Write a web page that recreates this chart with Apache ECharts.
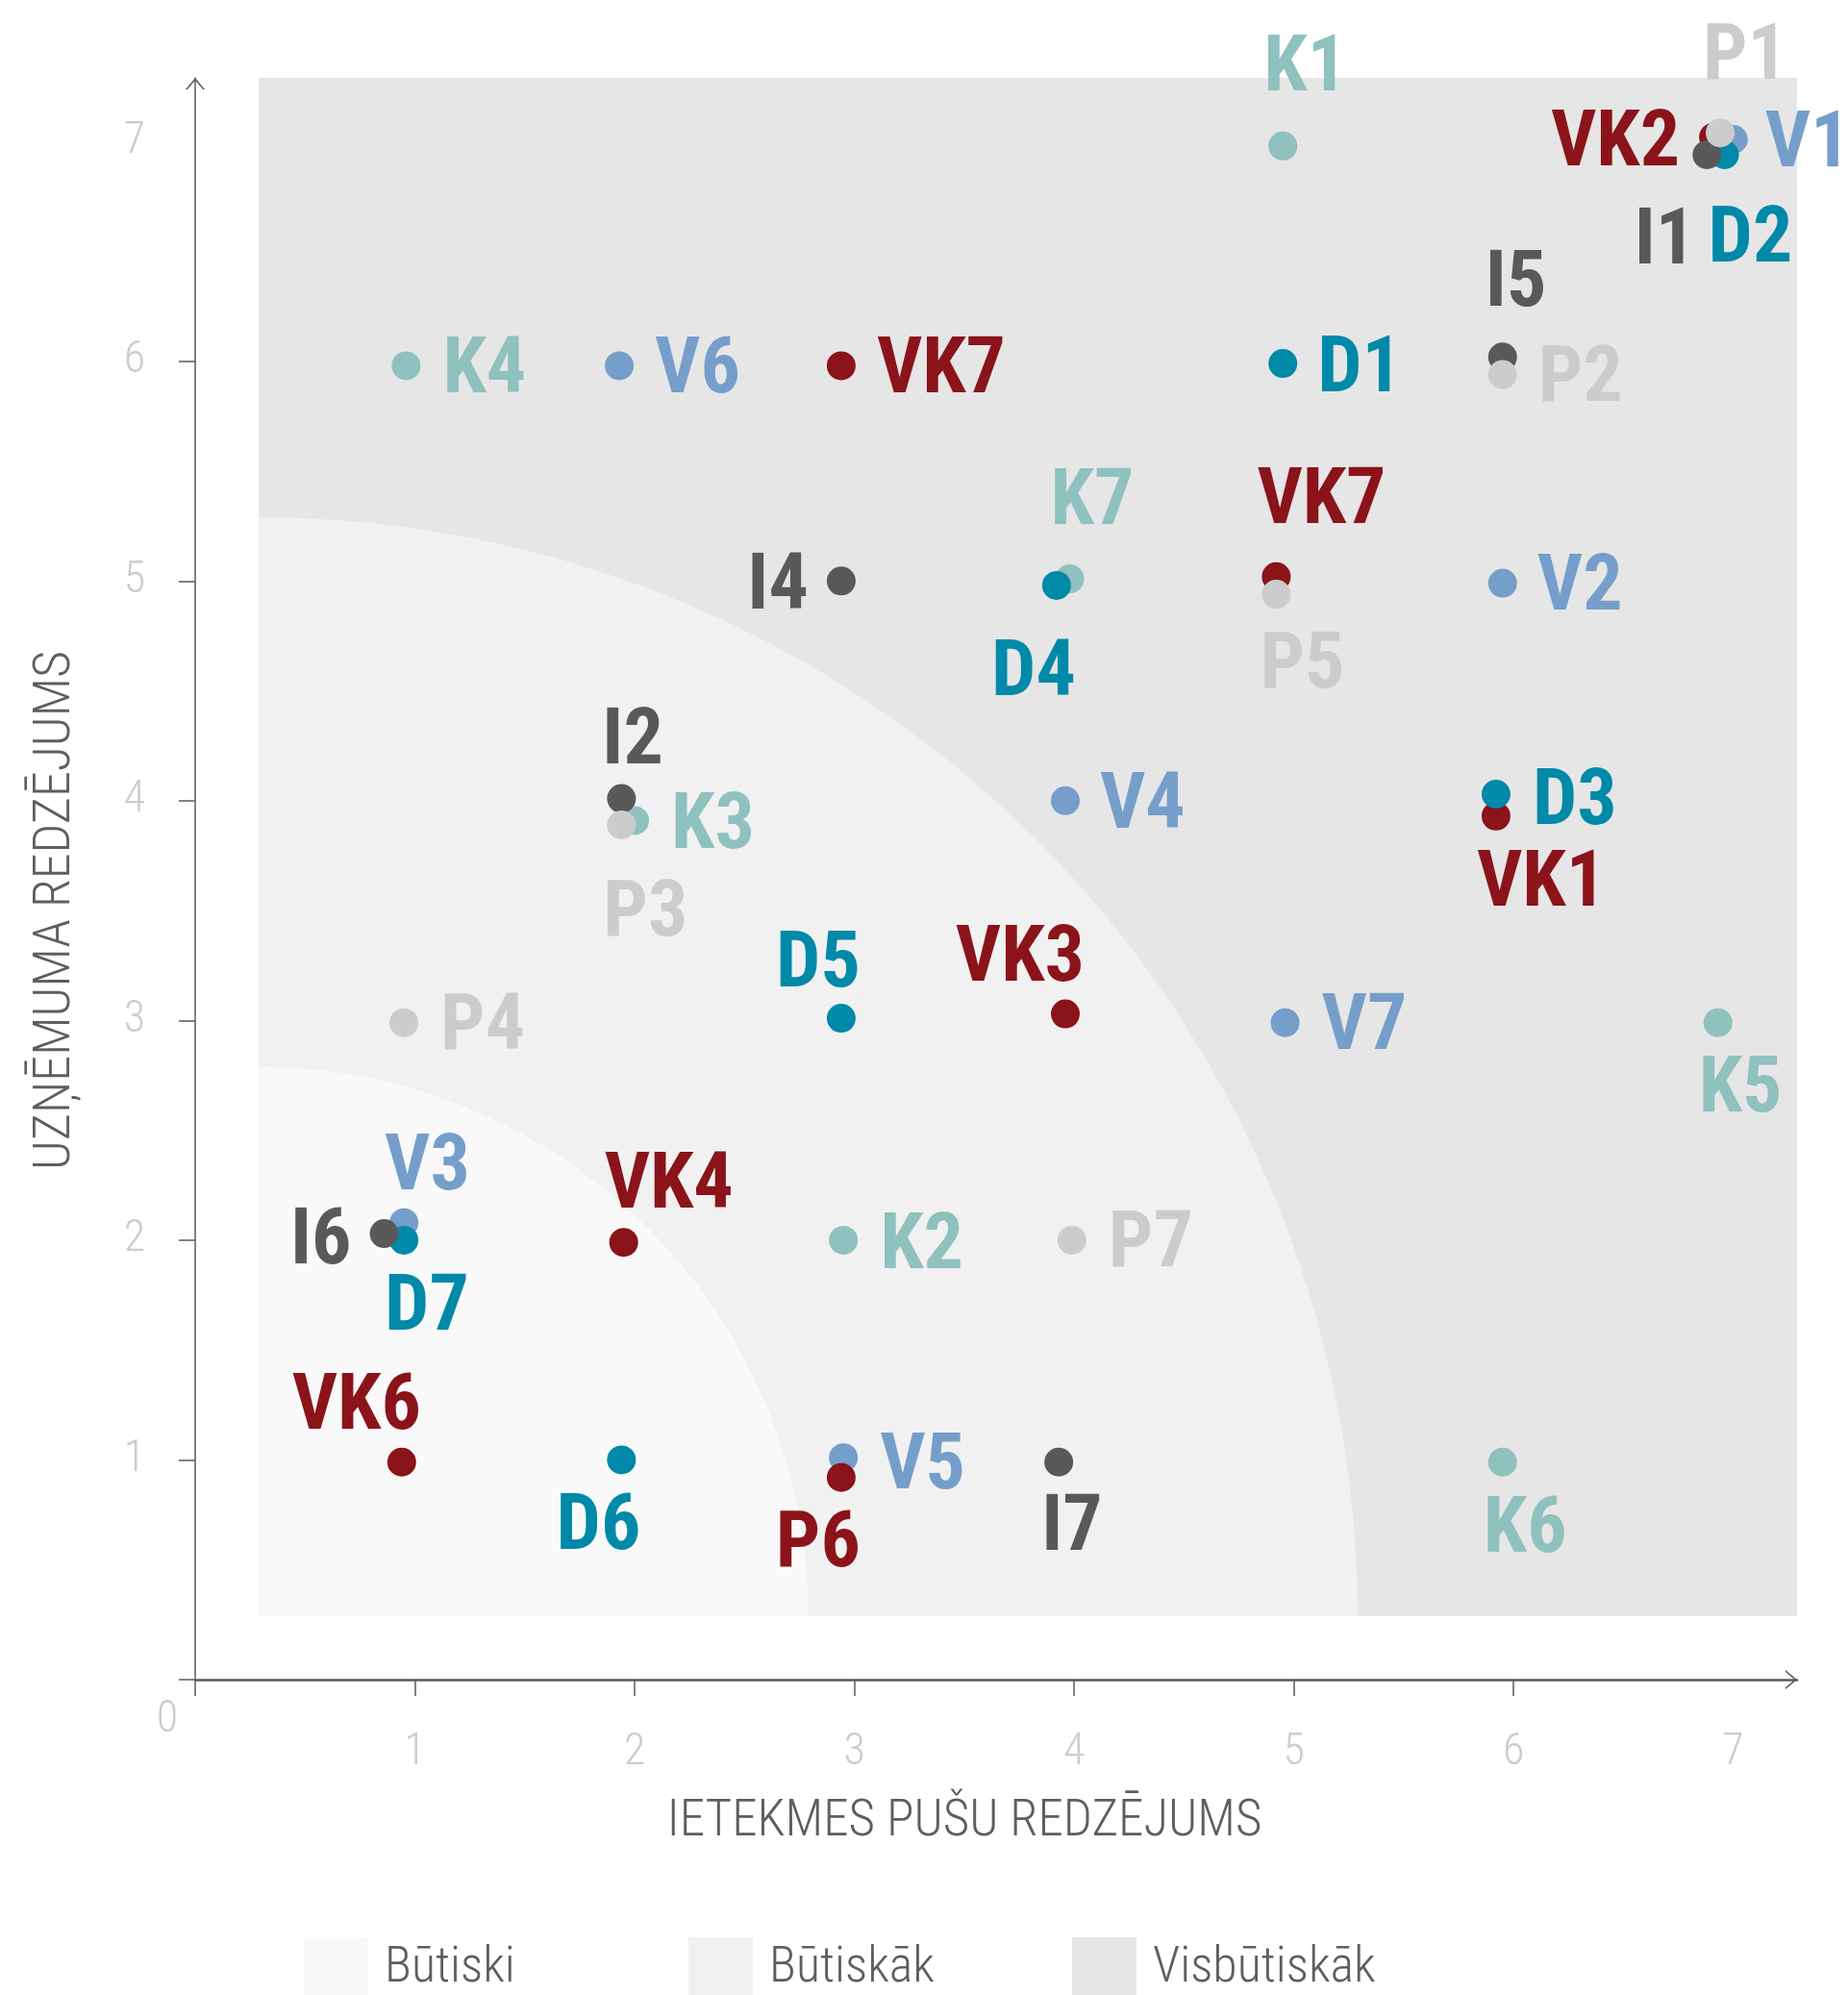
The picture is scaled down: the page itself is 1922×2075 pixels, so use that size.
<!DOCTYPE html>
<html>
<head>
<meta charset="utf-8">
<script src="https://cdn.jsdelivr.net/npm/echarts@6/dist/echarts.min.js"></script>
<style>
  html, body { margin: 0; padding: 0; background: #fff; }
  #main { width: 1922px; height: 2075px; }
</style>
</head>
<body>
<div id="main"></div>
<script>
// [label, x, y]
const kPoints = [['K1', 4.95, 6.98], ['K2', 2.95, 2.0], ['K3', 2.0, 3.91], ['K4', 0.96, 5.98], ['K5', 6.93, 2.99], ['K6', 5.95, 0.99], ['K7', 3.98, 5.01]];
const vPoints = [['V1', 7.0, 7.01], ['V2', 5.95, 4.99], ['V3', 0.95, 2.08], ['V4', 3.96, 4.0], ['V5', 2.95, 1.01], ['V6', 1.93, 5.98], ['V7', 4.96, 2.99]];
const vkPoints = [['VK1', 5.92, 3.93], ['VK2', 6.91, 7.02], ['VK3', 3.96, 3.03], ['VK4', 1.95, 1.99], ['VK6', 0.94, 0.99], ['VK7', 2.94, 5.98], ['VK7', 4.92, 5.02], ['P6', 2.94, 0.92]];
const dPoints = [['D1', 4.95, 5.99], ['D2', 6.96, 6.94], ['D3', 5.92, 4.03], ['D4', 3.92, 4.98], ['D5', 2.94, 3.01], ['D6', 1.94, 1.0], ['D7', 0.95, 2.0]];
const iPoints = [['I1', 6.88, 6.94], ['I2', 1.94, 4.01], ['I4', 2.94, 5.0], ['I5', 5.95, 6.02], ['I6', 0.86, 2.03], ['I7', 3.93, 0.99]];
const pPoints = [['P1', 6.94, 7.04], ['P2', 5.95, 5.94], ['P3', 1.94, 3.89], ['P4', 0.95, 2.99], ['P5', 4.92, 4.94], ['P7', 3.99, 2.0]];

const bandNames = ['Būtiski', 'Būtiskāk', 'Visbūtiskāk'];
const bandRadius = [2.5, 5];
const bandStart = 0.29;
const bandEnd = 7.29;

const axisMax = 7.29;
const tickValues = [0, 1, 2, 3, 4, 5, 6];
const labelValues = [1, 2, 3, 4, 5, 6, 7];

// label placement per point: [align, dx, dy] in px from dot centre
const kSpots = [['left', -20, -85], ['left', 38, 2], ['left', 38, 1], ['left', 38, 0], ['left', -20, 65], ['left', -20, 66], ['left', -20, -85]];
const vSpots = [['left', 33, 1], ['left', 36, 0], ['left', -20, -62], ['left', 36, 1], ['left', 38, 4], ['left', 37, 0], ['left', 38, 0]];
const vkSpots = [['left', -20, 66], ['right', -35, 2], ['right', 20, -62], ['left', -20, -64], ['right', 20, -62], ['left', 37, 0], ['left', -20, -83], ['right', 20, 65]];
const dSpots = [['left', 36, 1], ['left', -17, 84], ['left', 38, 3], ['right', 20, 87], ['right', 20, -61], ['right', 20, 65], ['left', -20, 66]];
const iSpots = [['right', -12, 86], ['left', -20, -64], ['right', -34, 1], ['left', -18, -81], ['right', -34, 3], ['left', -18, 64]];
const pSpots = [['left', -18, -84], ['left', 37, 0], ['left', -19, 87], ['left', 38, 0], ['left', -17, 69], ['left', 38, 0]];
const labelDrop = 7;

const narrow = "'Roboto Condensed', 'Noto Sans ExtraCondensed', 'Noto Sans Condensed', 'DejaVu Sans Condensed', sans-serif";
const bandColors = ['#f9f9f9', '#f1f1f1', '#e6e6e6'];
const legendLeft = [316, 716, 1115];
const axisColor = '#5a5a5a';
const arrow = 'path://M0,12 L10,0 L20,12 L18,12 L10,2.5 L2,12 Z';

const chart = echarts.init(document.getElementById('main'));

function bandSeries(i) {
    return {
        name: bandNames[i],
        type: 'custom',
        silent: true,
        z: 0,
        itemStyle: { color: bandColors[i] },
        data: [[bandStart, bandStart, i < 2 ? bandRadius[i] : bandEnd]],
        renderItem: (params, api) => {
            const o = api.coord([api.value(0), api.value(1)]);
            if (i === 2) {
                const e = api.coord([api.value(2), api.value(2)]);
                return { type: 'rect', shape: { x: o[0], y: e[1], width: e[0] - o[0], height: o[1] - e[1] }, style: { fill: bandColors[i] } };
            }
            const r = api.size([api.value(2), 0])[0];
            return {
                type: 'sector',
                shape: { cx: o[0], cy: o[1], r0: 0, r: r, startAngle: -Math.PI / 2, endAngle: 0, clockwise: true },
                style: { fill: bandColors[i] }
            };
        }
    };
}

function pointSeries(name, color, pts, spots) {
    return {
        name: name,
        type: 'scatter',
        symbolSize: 30,
        z: 3,
        itemStyle: { color: color, opacity: 1 },
        emphasis: { disabled: true },
        label: {
            show: true,
            position: 'inside',
            formatter: '{b}',
            color: color,
            fontFamily: narrow,
            fontWeight: 'bold',
            fontSize: 82,
            verticalAlign: 'middle'
        },
        data: pts.map((p, i) => ({
            name: p[0],
            value: [p[1], p[2]],
            label: { align: spots[i][0], offset: [spots[i][1], spots[i][2] + labelDrop] }
        }))
    };
}

const axisCommon = {
    type: 'value',
    min: 0,
    max: axisMax,
    splitLine: { show: false },
    axisTick: { show: true, length: 17, customValues: tickValues, lineStyle: { color: axisColor, width: 1.5 } },
    nameLocation: 'middle'
};

chart.setOption({
    animation: false,
    grid: { left: 203, top: 81, width: 1666, height: 1666, containLabel: false, outerBoundsMode: 'none' },
    tooltip: { show: false },
    legend: bandNames.map((n, i) => ({
        data: [n],
        left: legendLeft[i],
        top: 2015,
        padding: 0,
        icon: 'rect',
        itemWidth: 67,
        itemHeight: 66,
        selectedMode: false,
        textStyle: { fontFamily: narrow, fontWeight: 300, fontSize: 52, color: '#5e5e5e', padding: [0, 0, 0, 12] }
    })),
    xAxis: Object.assign({}, axisCommon, {
        axisLine: { show: true, lineStyle: { color: axisColor, width: 2.5 }, symbol: ['none', arrow], symbolSize: [20, 12], symbolOffset: [0, -6] },
        axisLabel: { customValues: labelValues, margin: 53, fontFamily: narrow, fontWeight: 300, fontSize: 46, lineHeight: 46, color: '#cccccc' },
        name: 'IETEKMES PUŠU REDZĒJUMS',
        nameGap: 122,
        nameTextStyle: { fontFamily: narrow, fontWeight: 300, fontSize: 53, lineHeight: 53, color: '#5e5e5e', padding: [0, 66, 0, 0] }
    }),
    yAxis: Object.assign({}, axisCommon, {
        axisLine: { show: true, lineStyle: { color: axisColor, width: 1.5 }, symbol: ['none', arrow], symbolSize: [20, 12], symbolOffset: [0, -6] },
        axisLabel: { customValues: labelValues, margin: 52, fontFamily: narrow, fontWeight: 300, fontSize: 46, color: '#cccccc' },
        name: 'UZŅĒMUMA REDZĒJUMS',
        nameGap: 118,
        nameTextStyle: { fontFamily: narrow, fontWeight: 300, fontSize: 54, lineHeight: 54, color: '#5e5e5e', padding: [0, 66, 0, 0] }
    }),
    series: [
        bandSeries(2), bandSeries(1), bandSeries(0),
        pointSeries('K', '#8fc1be', kPoints, kSpots),
        pointSeries('V', '#759ecb', vPoints, vSpots),
        pointSeries('VK', '#8b131a', vkPoints, vkSpots),
        pointSeries('D', '#0089a8', dPoints, dSpots),
        pointSeries('I', '#595959', iPoints, iSpots),
        pointSeries('P', '#cccccc', pPoints, pSpots)
    ]
});

// the lone "0" sits at the corner of the two axes
const origin = chart.convertToPixel({ gridIndex: 0 }, [0, 0]);
chart.setOption({
    graphic: [{
        type: 'text',
        x: origin[0] - 29,
        y: origin[1] + 42,
        style: { text: '0', fontFamily: narrow, fontWeight: 300, fontSize: 46, fill: '#cccccc', align: 'center', verticalAlign: 'middle', textAlign: 'center', textVerticalAlign: 'middle' }
    }]
});
</script>
</body>
</html>
